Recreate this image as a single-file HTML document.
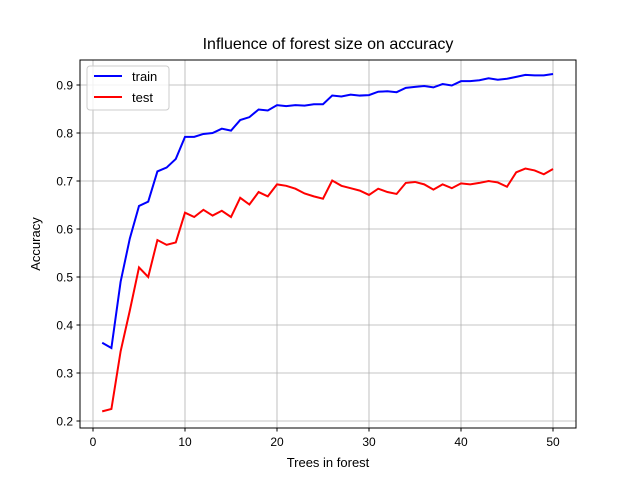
<!DOCTYPE html>
<html><head><meta charset="utf-8"><style>body{margin:0;background:#fff}svg{display:block;font-family:"Liberation Sans","DejaVu Sans",sans-serif}</style></head>
<body>
<svg id="chart" width="640" height="480">
<rect width="640" height="480" fill="#fff"/>
<text x="328" y="49" text-anchor="middle" font-size="16" fill="#000">Influence of forest size on accuracy</text>
<g id="grid"></g><g id="ticks"></g><g id="lines"></g>
<rect x="80" y="60" width="496" height="368" fill="none" stroke="#000" stroke-width="1"/>
<text x="328" y="467" text-anchor="middle" font-size="13">Trees in forest</text>
<text transform="translate(40,244) rotate(-90)" text-anchor="middle" font-size="13">Accuracy</text>
<g>
<rect x="87" y="66" width="82" height="44" rx="3" fill="#fff" fill-opacity="0.8" stroke="#ccc"/>
<g><line x1="94" y1="76" x2="122" y2="76" stroke="#0000ff" stroke-width="2"/><text x="132" y="81" font-size="13">train</text></g>
<g><line x1="94" y1="97" x2="122" y2="97" stroke="#ff0000" stroke-width="2"/><text x="132" y="102" font-size="13">test</text></g>
</g>
</svg>
<script>
const trees=[];for(let i=1;i<=50;i++)trees.push(i);
const trainAcc=[0.363,0.352,0.49,0.58,0.648,0.657,0.72,0.728,0.746,0.792,0.792,0.798,0.8,0.809,0.805,0.827,0.833,0.849,0.847,0.858,0.856,0.858,0.857,0.86,0.86,0.878,0.876,0.88,0.878,0.879,0.886,0.887,0.885,0.894,0.896,0.898,0.895,0.902,0.899,0.908,0.908,0.91,0.914,0.911,0.913,0.917,0.921,0.92,0.92,0.923];
const testAcc=[0.22,0.225,0.345,0.43,0.52,0.5,0.577,0.567,0.572,0.634,0.625,0.64,0.628,0.638,0.625,0.665,0.651,0.677,0.668,0.693,0.69,0.684,0.674,0.668,0.663,0.701,0.69,0.685,0.68,0.671,0.684,0.677,0.673,0.696,0.698,0.693,0.682,0.693,0.685,0.695,0.693,0.696,0.7,0.697,0.688,0.718,0.726,0.722,0.714,0.725];
const xTicks=[0,10,20,30,40,50];
const yTicks=[0.2,0.3,0.4,0.5,0.6,0.7,0.8,0.9];
const NS="http://www.w3.org/2000/svg";
const xs=v=>93+v*9.2, ys=v=>421-(v-0.2)*480;
const grid=document.getElementById('grid'),ticks=document.getElementById('ticks'),lines=document.getElementById('lines');
function mk(t,a,p){const e=document.createElementNS(NS,t);for(const k in a)e.setAttribute(k,a[k]);p.appendChild(e);return e;}
xTicks.forEach(v=>{const x=xs(v);
const g=mk('line',{x1:x,x2:x,y1:60,y2:428,stroke:'#b0b0b0','stroke-width':0.8},grid);


mk('line',{x1:x,x2:x,y1:428,y2:431.5,stroke:'#000'},ticks);
const t=mk('text',{x:x,y:446,'text-anchor':'middle','font-size':12},ticks);t.textContent=v;

});
yTicks.forEach(v=>{const y=ys(v);
const g=mk('line',{x1:80,x2:576,y1:y,y2:y,stroke:'#b0b0b0','stroke-width':0.8},grid);


mk('line',{x1:76.5,x2:80,y1:y,y2:y,stroke:'#000'},ticks);
const t=mk('text',{x:73,y:y+4.5,'text-anchor':'end','font-size':12},ticks);t.textContent=v.toFixed(1);

});
function series(d,c,n){const p=mk('polyline',{points:d.map((v,i)=>xs(trees[i])+','+ys(v)).join(' '),fill:'none',stroke:c,'stroke-width':2},lines);

}
series(trainAcc,'#0000ff','train-line');
series(testAcc,'#ff0000','test-line');
</script>
</body></html>
